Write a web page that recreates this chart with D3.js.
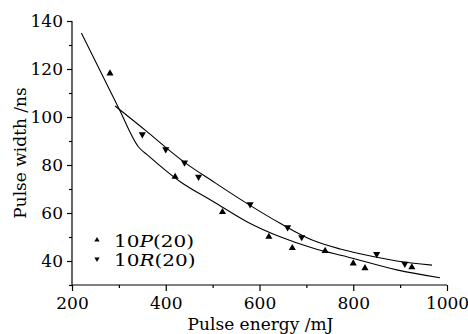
<!DOCTYPE html>
<html>
<head>
<meta charset="utf-8">
<script src="https://cdn.jsdelivr.net/npm/d3@7"></script>
<style>
  body { margin: 0; background: #fff; }
  svg { display: block; }
</style>
</head>
<body>
<svg id="chart" width="468" height="334"></svg>
<script>
// measured points, 10P(20)
const pEnergy = [281, 420, 521, 620, 670, 740, 800, 825, 925];
const pWidth  = [118.2, 75.1, 60.4, 50.1, 45.4, 44.2, 39, 37, 37.4];
// measured points, 10R(20)
const rEnergy = [350, 400, 440, 470, 580, 660, 690, 850, 910];
const rWidth  = [92.8, 86.5, 81, 75.1, 63.6, 54, 49.9, 42.9, 38.8];
// fitted curves
const pFitEnergy = [220, 300, 342, 362, 431, 502, 573, 644, 715, 786, 893, 985];
const pFitWidth  = [135, 103.5, 87.5, 84, 73, 64.7, 56.4, 50.1, 45.3, 41.8, 36.3, 33];
const rFitEnergy = [292, 360, 402, 438, 502, 573, 644, 715, 772, 822, 893, 968];
const rFitWidth  = [104.6, 93.9, 87, 81.4, 73, 64, 55.7, 48.5, 45, 42.7, 40, 38.3];

const xMajor = [200, 400, 600, 800, 1000];
const xMinor = [300, 500, 700, 900];
const yMajor = [40, 60, 80, 100, 120, 140];
const yMinor = [30, 50, 70, 90, 110, 130];
const legendLabels = [["10", "P", "(20)"], ["10", "R", "(20)"]];

const svg = d3.select("#chart")
  .attr("font-family", "'DejaVu Serif', serif");

const margin = {top: 21, right: 21, bottom: 49, left: 72};
const width = +svg.attr("width") - margin.left - margin.right;
const height = +svg.attr("height") - margin.top - margin.bottom;

const x = d3.scaleLinear().domain([200, 1000]).range([0, width]);
const y = d3.scaleLinear().domain([30, 140]).range([height, 0]);

const g = svg.append("g")
  .attr("transform", `translate(${margin.left},${margin.top})`);

// axes, major + minor ticks
const xAxis = g.append("g").attr("transform", `translate(0,${height})`)
  .call(d3.axisBottom(x).tickValues(xMajor).tickSize(6).tickPadding(6).tickFormat(d3.format("d")));
g.append("g").attr("transform", `translate(0,${height})`)
  .call(d3.axisBottom(x).tickValues(xMinor).tickSize(3).tickFormat(""))
  .call(a => a.select(".domain").remove());

const yAxis = g.append("g")
  .call(d3.axisLeft(y).tickValues(yMajor).tickSize(5).tickPadding(4));
g.append("g")
  .call(d3.axisLeft(y).tickValues(yMinor).tickSize(3).tickFormat(""))
  .call(a => a.select(".domain").remove());

g.selectAll(".tick text")
  .attr("font-size", 17)
  .attr("font-family", "'DejaVu Serif', serif")
  .attr("fill", "#000");
g.selectAll(".domain, .tick line").attr("stroke", "#000").attr("stroke-width", 1.2);
// domain without end caps
xAxis.select(".domain").attr("d", `M0,0H${width}`);
yAxis.select(".domain").attr("d", `M0,0V${height}`);

// axis titles
svg.append("text")
  .attr("x", margin.left + width / 2 + 1)
  .attr("y", 330)
  .attr("text-anchor", "middle")
  .attr("font-size", 17)
  .text("Pulse energy /mJ");

svg.append("text")
  .attr("transform", `translate(26,153) rotate(-90)`)
  .attr("text-anchor", "middle")
  .attr("font-size", 17)
  .text("Pulse width /ns");

// fit lines
const line = d3.line()
  .x(d => x(d[0]))
  .y(d => y(d[1]))
  .curve(d3.curveMonotoneX);

g.append("path")
  .datum(d3.zip(pFitEnergy, pFitWidth))
  .attr("d", line)
  .attr("fill", "none")
  .attr("stroke", "#000")
  .attr("stroke-width", 1.1);

g.append("path")
  .datum(d3.zip(rFitEnergy, rFitWidth))
  .attr("d", line)
  .attr("fill", "none")
  .attr("stroke", "#000")
  .attr("stroke-width", 1.1);

// markers
const tri = d3.symbol().type(d3.symbolTriangle).size(22);

g.selectAll(".pPt")
  .data(d3.zip(pEnergy, pWidth))
  .enter().append("path")
  .attr("class", "pPt")
  .attr("d", tri)
  .attr("transform", d => `translate(${x(d[0])},${y(d[1])})`)
  .attr("fill", "#000");

g.selectAll(".rPt")
  .data(d3.zip(rEnergy, rWidth))
  .enter().append("path")
  .attr("class", "rPt")
  .attr("d", tri)
  .attr("transform", d => `translate(${x(d[0])},${y(d[1])}) rotate(180)`)
  .attr("fill", "#000");

// legend
const legTri = d3.symbol().type(d3.symbolTriangle).size(12);
const legend = svg.append("g").attr("transform", "translate(97,240)");

legendLabels.forEach((lab, i) => {
  const row = legend.append("g").attr("transform", `translate(0,${i * 19})`);
  row.append("path")
    .attr("d", legTri)
    .attr("transform", i === 0 ? "" : "rotate(180)")
    .attr("fill", "#000");
  // text a bit wider than DejaVu, like the original face
  const t = row.append("text")
    .attr("transform", "translate(17,7) scale(1.25,1)")
    .attr("font-size", 16);
  t.append("tspan").text(lab[0]);
  t.append("tspan").attr("font-style", "italic").text(lab[1]);
  t.append("tspan").text(lab[2]);
});
</script>
</body>
</html>
